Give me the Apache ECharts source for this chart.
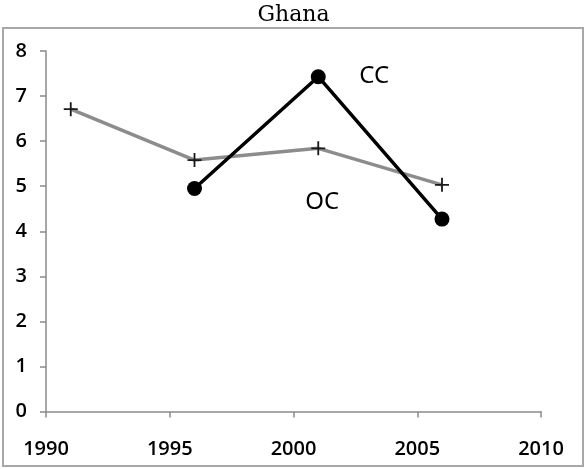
<!DOCTYPE html>
<html>
<head>
<meta charset="utf-8">
<script src="https://cdn.jsdelivr.net/npm/echarts@6/dist/echarts.min.js"></script>
<style>html,body{margin:0;padding:0;background:#fff}#c{width:587px;height:469px}</style>
</head>
<body>
<div id="c"></div>
<script>
const title = 'Ghana';
const xTicks = [1990, 1995, 2000, 2005, 2010];
const yTicks = [0, 1, 2, 3, 4, 5, 6, 7, 8];
const ocYears = [1991, 1996, 2001, 2006];
const ocValues = [6.71, 5.58, 5.84, 5.03];
const ccYears = [1996, 2001, 2006];
const ccValues = [4.95, 7.43, 4.27];
const labelNames = ['CC', 'OC'];
const labelAt = [[2003.26, 7.44], [2001.16, 4.64]];

const chart = echarts.init(document.getElementById('c'), null, {renderer: 'canvas'});
const plus = 'path://M0,4.35H10V5.65H0Z M4.35,0H5.65V10H4.35Z';
const axisCommon = {
  axisLine: {show: true, lineStyle: {color: '#8a8a8a', width: 1.5}},
  axisTick: {show: true, inside: false, length: 6, lineStyle: {color: '#8a8a8a', width: 1.5}},
  splitLine: {show: false},
  axisLabel: {color: '#000', fontFamily: 'Open Sans', fontWeight: 600, fontSize: 20}
};
chart.setOption({
  animation: false,
  backgroundColor: '#fff',
  title: {text: title, left: 'center', top: -1,
    textStyle: {fontFamily: 'DejaVu Serif', fontWeight: 'normal', fontSize: 22, color: '#000'}},
  graphic: [{type: 'rect', shape: {x: 3, y: 28, width: 580, height: 438},
    style: {fill: 'none', stroke: '#a8a8a8', lineWidth: 2}, z: -1}],
  grid: {left: 46, right: 46, top: 51, bottom: 57.5},
  xAxis: Object.assign({}, axisCommon, {
    type: 'value', min: xTicks[0], max: xTicks[xTicks.length - 1], interval: 5,
    axisLabel: Object.assign({}, axisCommon.axisLabel, {margin: 28, formatter: v => String(v)})
  }),
  yAxis: Object.assign({}, axisCommon, {
    type: 'value', min: yTicks[0], max: yTicks[yTicks.length - 1], interval: 1,
    axisLabel: Object.assign({}, axisCommon.axisLabel, {margin: 19})
  }),
  series: [
    {
      name: 'OC', type: 'line',
      data: ocYears.map((y, i) => [y, ocValues[i]]),
      lineStyle: {color: '#8c8c8c', width: 3.5},
      symbol: plus, symbolSize: 14,
      itemStyle: {color: '#1a1a1a'},
      z: 2,
      markPoint: {
        symbol: 'circle', symbolSize: 0,
        label: {show: true, position: 'inside', color: '#000', fontFamily: 'Noto Sans', fontSize: 24, formatter: p => p.name},
        data: labelNames.map((n, i) => ({name: n, coord: labelAt[i]}))
      }
    },
    {
      name: 'CC', type: 'line',
      data: ccYears.map((y, i) => [y, ccValues[i]]),
      lineStyle: {color: '#000', width: 3.5},
      symbol: 'circle', symbolSize: 15,
      itemStyle: {color: '#000'},
      z: 3
    }
  ]
});
</script>
</body>
</html>
